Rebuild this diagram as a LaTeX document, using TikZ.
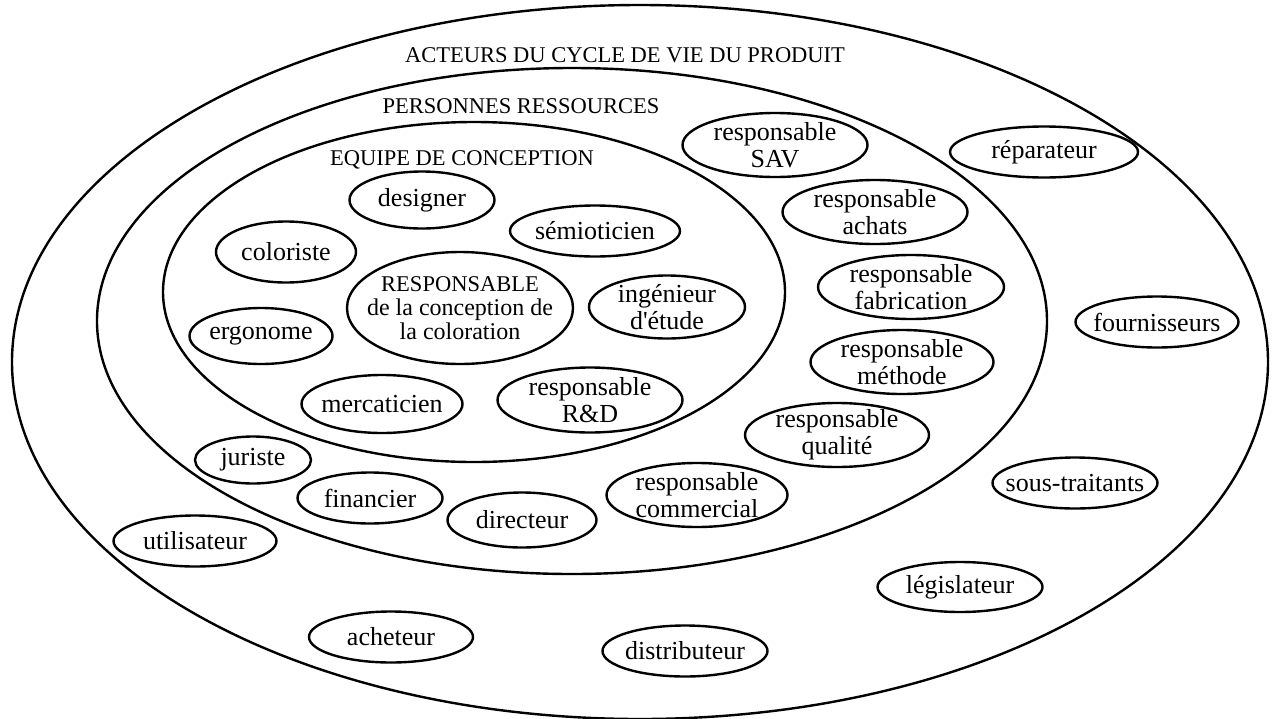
\documentclass[tikz,border=0pt]{standalone}
\usepackage{fontspec}
\setmainfont{Liberation Serif}
\usetikzlibrary{shapes.geometric}
\tikzset{
  ring/.style={ellipse, draw, line width=2.4pt, inner sep=0pt},
  actor/.style={ellipse, draw, line width=2.4pt, inner sep=0pt},
  one/.style={minimum height=51pt},
  two/.style={minimum height=64pt},
  heading/.style={inner sep=0pt, anchor=base, font=\fontsize{22.5}{24}\selectfont},
  every label/.style={align=center, inner sep=0pt, font=\fontsize{26}{27}\selectfont}
}
\begin{document}
\begin{tikzpicture}[x=1pt, y=-1pt]
\useasboundingbox (0,0) rectangle (1276,718);

% three nested circles of actors
\node[ring, minimum width=1256pt, minimum height=714pt] (acteurs) at (640,362) {};
\node[ring, minimum width=950pt, minimum height=506pt] (personnes) at (572,321) {};
\node[ring, minimum width=622pt, minimum height=340pt] (equipe) at (474,292) {};

\node[heading] (tacteurs) at (625,62) {ACTEURS DU CYCLE DE VIE DU PRODUIT};
\node[heading] (tpersonnes) at (521,113) {PERSONNES RESSOURCES};
\node[heading] (tequipe) at (462,165) {EQUIPE DE CONCEPTION};

% design team
\node[actor, minimum width=226pt, minimum height=112pt,
  label={[font=\fontsize{24}{24}\selectfont]center:{\fontsize{22.5}{24}\selectfont RESPONSABLE}\\de la conception de\\la coloration}]
  (responsable) at (460,308) {};
\node[actor, minimum width=145pt, minimum height=57pt, label=center:designer] (designer) at (422,200) {};
\node[actor, minimum width=140pt, minimum height=61pt, label=center:coloriste] (coloriste) at (286,252) {};
\node[actor, one, minimum width=170pt, label=center:sémioticien] (semioticien) at (595,231) {};
\node[actor, minimum width=156pt, minimum height=63pt, label={center:ingénieur\\d\textquotesingle étude}] (ingenieur) at (667,307) {};
\node[actor, minimum width=143pt, minimum height=56pt, label=center:ergonome] (ergonome) at (261,336) {};
\node[actor, minimum width=161pt, minimum height=58pt, label=center:mercaticien] (mercaticien) at (382,404) {};
\node[actor, minimum width=185pt, minimum height=65pt, label={center:responsable\\R\&D}] (rd) at (590,400) {};

% resource persons
\node[actor, two, minimum width=185pt, label={center:responsable\\SAV}] (sav) at (775,145) {};
\node[actor, two, minimum width=185pt, label={center:responsable\\achats}] (achats) at (875,212) {};
\node[actor, two, minimum width=186pt, label={center:responsable\\fabrication}] (fabrication) at (911,287) {};
\node[actor, two, minimum width=183pt, label={center:responsable\\méthode}] (methode) at (902,362) {};
\node[actor, two, minimum width=184pt, label={center:responsable\\qualité}] (qualite) at (837,435) {};
\node[actor, two, minimum width=181pt, label={center:responsable\\commercial}] (commercial) at (697,495) {};
\node[actor, minimum width=149pt, minimum height=55pt, label=center:directeur] (directeur) at (522,520) {};
\node[actor, one, minimum width=145pt, label=center:financier] (financier) at (370,498) {};
\node[actor, minimum width=116pt, minimum height=47pt, label=center:juriste] (juriste) at (253,460) {};

% other actors of the product life cycle
\node[actor, one, minimum width=188pt, label=center:réparateur] (reparateur) at (1044,152) {};
\node[actor, one, minimum width=163pt, label=center:fournisseurs] (fournisseurs) at (1157,322) {};
\node[actor, one, minimum width=165pt, label=center:sous-traitants] (soustraitants) at (1075,483) {};
\node[actor, minimum width=165pt, minimum height=50pt, label=center:législateur] (legislateur) at (960,587) {};
\node[actor, one, minimum width=165pt, label=center:distributeur] (distributeur) at (685,651) {};
\node[actor, one, minimum width=164pt, label=center:acheteur] (acheteur) at (391,637) {};
\node[actor, one, minimum width=163pt, label=center:utilisateur] (utilisateur) at (195,541) {};
\end{tikzpicture}
\end{document}
